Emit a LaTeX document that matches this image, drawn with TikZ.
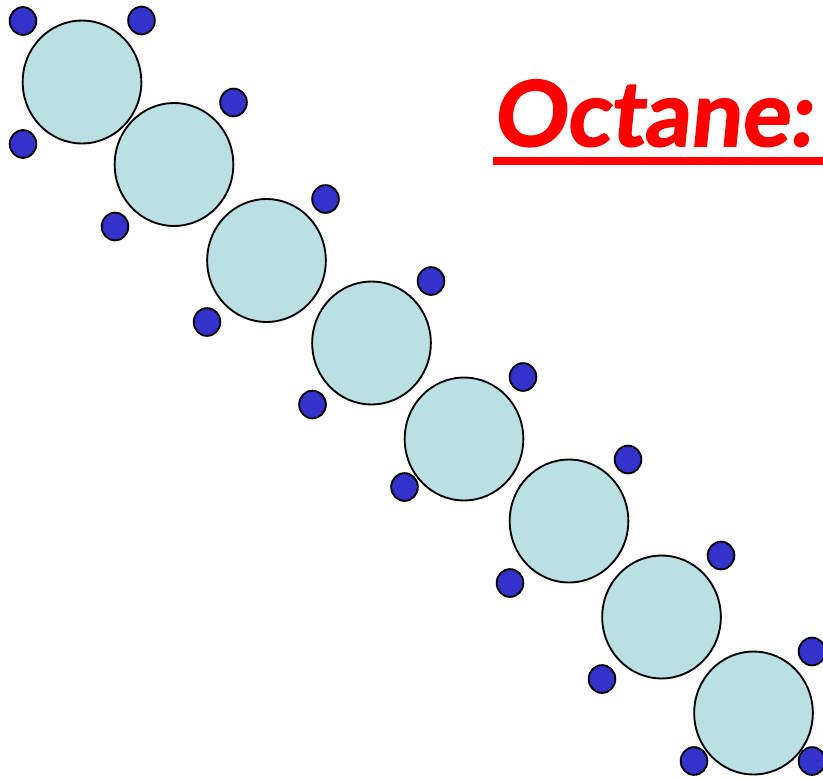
\documentclass[tikz,border=0pt]{standalone}
\usepackage{xcolor}
\usepackage{fontspec}
\usetikzlibrary{shapes.geometric}
\newfontfamily\titlefont[FakeBold=1.8, FakeSlant=0.1]{Lato}
\definecolor{carbonfill}{HTML}{BBE0E3}
\definecolor{hydrogenfill}{HTML}{3333CC}
\tikzset{
    carbon/.style={ellipse, draw=black, line width=1.4pt, fill=carbonfill, inner sep=0pt, minimum width=89pt, minimum height=92.2pt},
    hydrogen/.style={ellipse, draw=black, line width=1.4pt, fill=hydrogenfill, inner sep=0pt, minimum width=20pt, minimum height=20.8pt},
}

\begin{document}
\begin{tikzpicture}[x=0.75pt, y=-0.75pt]
        \useasboundingbox (0, 0) rectangle (823, 778);

        % Draw the hydrogens
        \foreach \name/\x/\y in {
                h1/23/21, h2/141.5/20.5, h3/23/144,
                h4/233.5/102.5, h5/115/226.5,
                h6/325.5/199, h7/207/322,
                h8/431/281, h9/312.5/404.5,
                h10/523/377, h11/404.5/487,
                h12/628/459.5, h13/510/583,
                h14/721/555.5, h15/602/679,
                h16/812/651.5, h17/694/761, h18/812/761
            } {
                \node[hydrogen] (\name) at (\x, \y) {};
            }

        % Draw the carbon chain
        \foreach \name/\x/\y in {
                c1/82/82,
                c2/174/164.5,
                c3/266.5/260.5,
                c4/371.5/343,
                c5/464/439,
                c6/569/521,
                c7/661.5/617,
                c8/753.5/713
            } {
                \node[carbon] (\name) at (\x, \y) {};
            }

        % Title
        \node[red, font=\fontsize{68}{68}\selectfont\titlefont\bfseries, anchor=base west, inner sep=0pt] (title) at (493, 146) {Octane:};
        \fill[red] (493, 157) rectangle (823, 165);
    \end{tikzpicture}
\end{document}
